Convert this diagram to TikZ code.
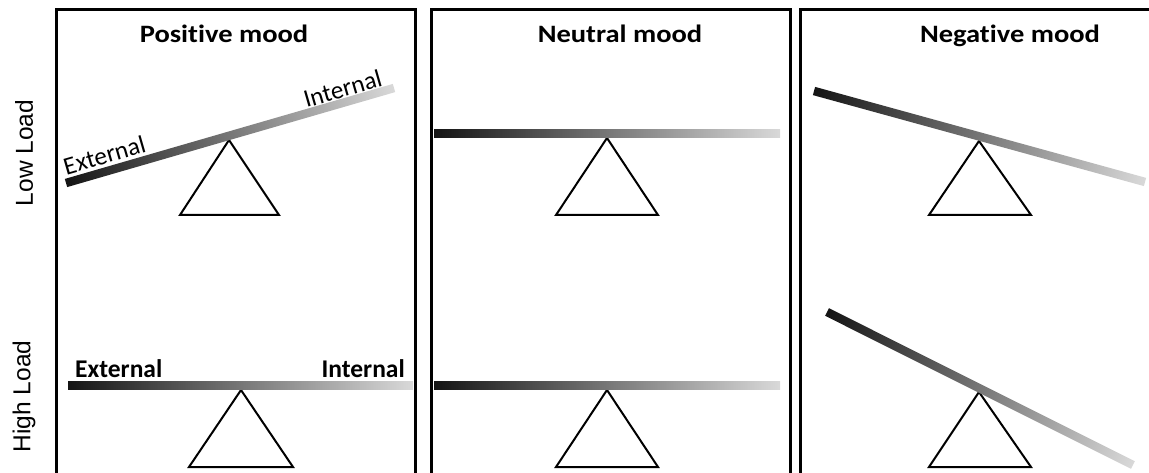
\documentclass[tikz,border=0pt]{standalone}
\usepackage{fontspec}
\setmainfont[Ligatures=NoCommon]{Carlito}
\newfontfamily\loadfont{Liberation Sans}
\tikzset{
  panel/.style={draw=black, line width=3pt},
  pivot/.style={draw=black, line width=2pt, line join=miter, fill=white},
  title/.style={font=\fontsize{25}{30}\selectfont\bfseries, anchor=base, inner sep=0pt, xscale=1.14},
  endlabel/.style={font=\fontsize{25.5}{30}\selectfont\bfseries, inner sep=0pt},
  tiltlabel/.style={font=\fontsize{25.2}{28}\selectfont, inner sep=0pt, rotate=16.15},
  loadlabel/.style={font=\loadfont\fontsize{24.5}{28}\selectfont, rotate=90, inner sep=0pt},
  beam/.style={left color=black!92, right color=black!15}
}
\newcommand\seesawbar[4]{%
  \begin{scope}[transform canvas={shift={(#1,#2)},rotate=#3}]
    \shade[beam] (0,-4.25) rectangle (#4,4.25);
  \end{scope}}
\begin{document}
\begin{tikzpicture}[x=1pt,y=1pt]
\useasboundingbox (0,0) rectangle (1149,472);
\clip (0,0) rectangle (1149,472);

% panels
\draw[panel] (56.5,-10) rectangle (415,462);
\draw[panel] (431,-10) rectangle (790,462);
\draw[panel] (800,-10) rectangle (1165,462);

% titles
\node[title] (t1) at (224,429) {Positive mood};
\node[title] (t2) at (620,429) {Neutral mood};
\node[title] (t3) at (1010,429) {Negative mood};

% row labels
\node[loadlabel] (low) at (24,319) {Low Load};
\node[loadlabel] (high) at (24,75.5) {High Load};

% pivots
\draw[pivot] (180,257) -- (229,332) -- (279,257) -- cycle;
\draw[pivot] (189,5) -- (241,82) -- (293,5) -- cycle;
\draw[pivot] (556,257) -- (607,334) -- (658,257) -- cycle;
\draw[pivot] (556,5) -- (607,82) -- (658,5) -- cycle;
\draw[pivot] (929,257) -- (979,331) -- (1031,257) -- cycle;
\draw[pivot] (929,5) -- (979,80) -- (1031,5) -- cycle;

% beams
\seesawbar{66}{289}{16.15}{341.5}
\seesawbar{68}{86.3}{0}{345}
\seesawbar{434}{338.5}{0}{346}
\seesawbar{434}{86.5}{0}{346}
\seesawbar{814}{381}{-15.37}{343.3}
\seesawbar{827}{160}{-26.57}{342.1}

% labels on the tilted beam (positive mood, low load)
\node[tiltlabel, anchor=base west] (ext1) at (66.3,296.8) {External};
\node[tiltlabel, anchor=base] (int1) at (345,375.3) {Internal};

% end labels high load positive
\node[endlabel, anchor=base west] (ext2) at (75,95) {External};
\node[endlabel, anchor=base east] (int2) at (405,95) {Internal};
\end{tikzpicture}
\end{document}
